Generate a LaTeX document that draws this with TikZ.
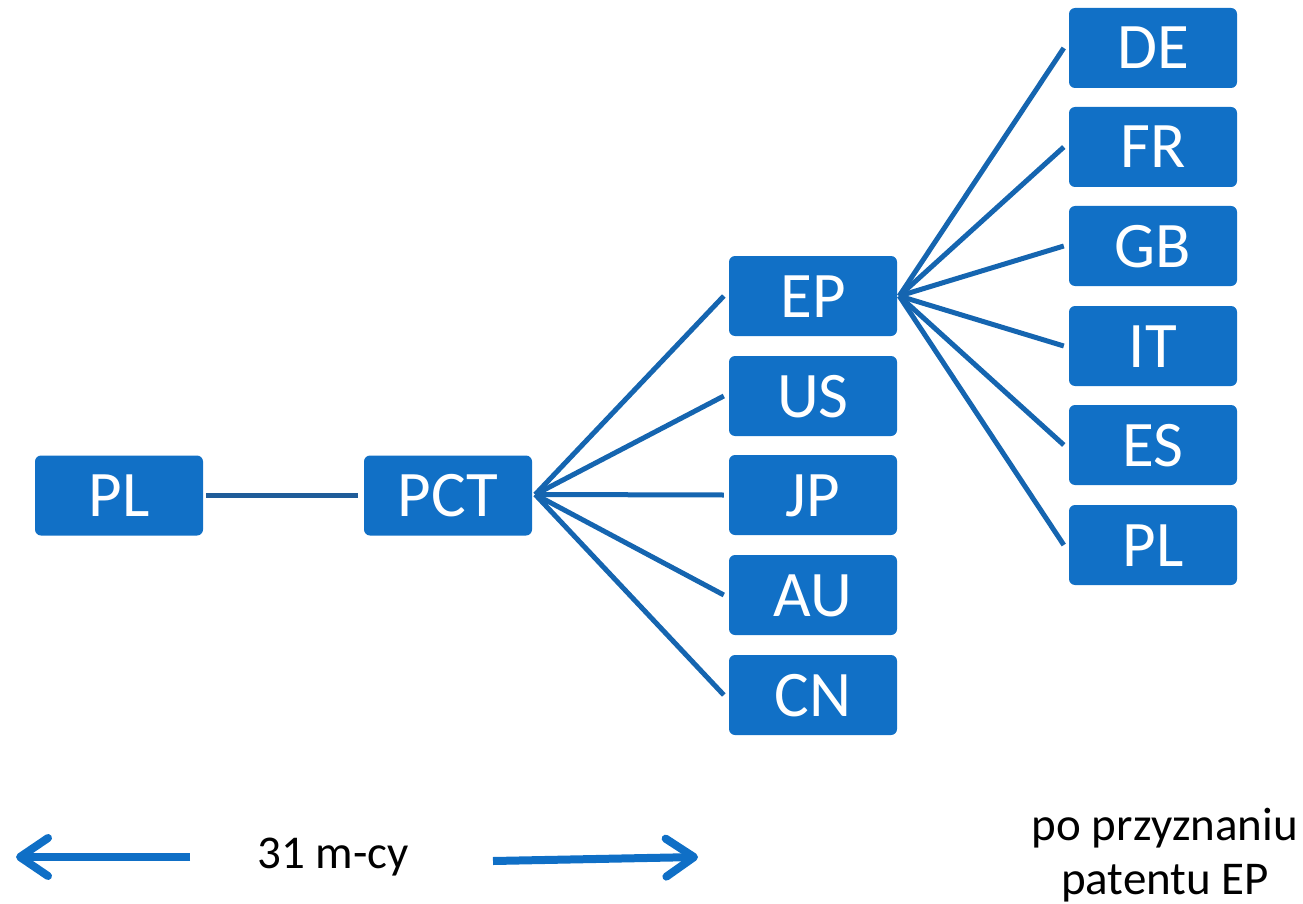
\documentclass[tikz,border=0pt]{standalone}
\usepackage{fontspec}
\setmainfont{Carlito}
\usetikzlibrary{calc,arrows.meta}
\definecolor{boxblue}{HTML}{1170C6}
\definecolor{linkblue}{HTML}{1565B0}
\definecolor{darklink}{HTML}{1F5C99}
\definecolor{arrowblue}{HTML}{0F6FC6}
\tikzset{
  cbox/.style={draw=none, fill=boxblue, rounded corners=6pt, minimum width=168pt, minimum height=80pt,
    inner sep=0pt, text=white, font=\fontsize{65}{78}\selectfont, text height=42pt, text depth=0pt},
  link/.style={draw=linkblue, line width=5pt},
  bigarrow/.style={draw=arrowblue, line width=8pt,
    -{Straight Barb[length=28pt,width=38pt,round]}},
  note/.style={font=\fontsize{47}{54}\selectfont, text=black, align=center, inner sep=0pt}
}
\begin{document}
\begin{tikzpicture}[x=1pt,y=-1pt]
\useasboundingbox (0,0) rectangle (1303,904);
% left
\node[cbox] (pl1) at (119,495.5) {PL};
\node[cbox] (pct) at (448,495.5) {PCT};
% middle column
\node[cbox] (ep) at (813,296) {EP};
\node[cbox] (us) at (813,396) {US};
\node[cbox] (jp) at (813,495) {JP};
\node[cbox] (au) at (813,595) {AU};
\node[cbox] (cn) at (813,695) {CN};
% right column
\node[cbox] (de) at (1153,48) {DE};
\node[cbox] (fr) at (1153,147) {FR};
\node[cbox] (gb) at (1153,246) {GB};
\node[cbox] (it) at (1153,346) {IT};
\node[cbox] (es) at (1153,445) {ES};
\node[cbox] (pl2) at (1153,545) {PL};
% connectors
\draw[draw=darklink, line width=5pt] ($(pl1.east)+(3,0)$) -- ($(pct.west)+(-6,0)$);
\coordinate (pcto) at ($(pct.east)+(3,-1)$);
\foreach \t in {ep,us,jp,au,cn}{
  \draw[link] (pcto) -- ($(\t.west)+(-5,0)$);
}
\coordinate (epo) at ($(ep.east)+(2,0)$);
\foreach \t in {de,fr,gb,it,es,pl2}{
  \draw[link] (epo) -- ($(\t.west)+(-5,0)$);
}
% bottom
\node[note] (months) at (333,857) {31 m-cy};
\coordinate (la) at (190,857);
\coordinate (lb) at (16,857);
\coordinate (ra) at (493,861);
\coordinate (rb) at (698,857);
\draw[bigarrow] (la) -- (lb);
\draw[bigarrow] (ra) -- (rb);
\node[note] (after) at (1165,855) {po przyznaniu\\patentu EP};
\end{tikzpicture}
\end{document}
